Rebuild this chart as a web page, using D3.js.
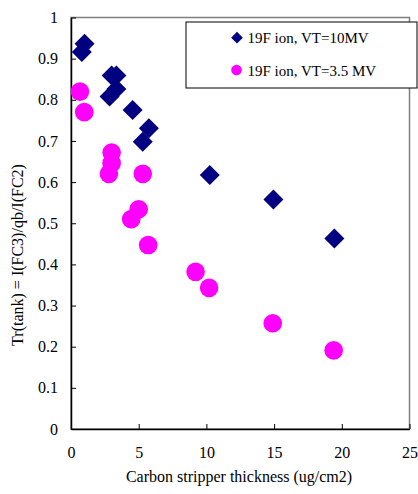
<!DOCTYPE html>
<html>
<head>
<meta charset="utf-8">
<script src="https://cdn.jsdelivr.net/npm/d3@7"></script>
<style>
  body { margin: 0; background: #fff; }
  text { font-family: "Liberation Serif", "Times New Roman", serif; }
</style>
</head>
<body>
<svg id="chart"></svg>
<script>
// 19F ion, VT=10MV
var thick10 = [0.8, 1.0, 3.0, 3.35, 3.35, 2.85, 4.55, 5.75, 5.3, 10.25, 14.95, 19.45];
var trans10 = [0.916, 0.936, 0.859, 0.859, 0.826, 0.808, 0.775, 0.731, 0.698, 0.617, 0.558, 0.463];
// 19F ion, VT=3.5 MV
var thick35 = [0.66, 0.98, 3.0, 3.0, 2.8, 5.3, 5.0, 4.45, 5.7, 9.2, 10.2, 14.9, 19.4];
var trans35 = [0.820, 0.770, 0.672, 0.646, 0.620, 0.620, 0.534, 0.510, 0.447, 0.382, 0.343, 0.257, 0.191];

var xTicks = [0, 5, 10, 15, 20, 25];
var yTicks = [0, 0.1, 0.2, 0.3, 0.4, 0.5, 0.6, 0.7, 0.8, 0.9, 1];
var seriesNames = ["19F ion, VT=10MV", "19F ion, VT=3.5 MV"];

var width = 418, height = 494;
var svg = d3.select("#chart").attr("width", width).attr("height", height);

var x = d3.scaleLinear().domain([0, 25]).range([71, 409.5]);
var y = d3.scaleLinear().domain([0, 1]).range([429, 17.5]);

// plot area border
svg.append("rect")
   .attr("x", x(0)).attr("y", y(1))
   .attr("width", x(25) - x(0)).attr("height", y(0) - y(1))
   .attr("fill", "none").attr("stroke", "#808080").attr("stroke-width", 1.5);

var xAxis = svg.append("g")
   .attr("transform", "translate(0," + y(0) + ")")
   .call(d3.axisBottom(x).tickValues(xTicks).tickSizeInner(-5).tickSizeOuter(0).tickPadding(18));
var yAxis = svg.append("g")
   .attr("transform", "translate(" + x(0) + ",0)")
   .call(d3.axisLeft(y).tickValues(yTicks).tickSizeInner(-5).tickSizeOuter(0).tickPadding(13)
         .tickFormat(function(d) { return d3.format("")(+d.toFixed(1)); }));

[xAxis, yAxis].forEach(function(g) {
  g.select(".domain").attr("stroke", "#000").attr("stroke-width", 1.5);
  g.selectAll(".tick line").attr("stroke", "#000").attr("stroke-width", 1);
  g.selectAll(".tick text").attr("font-size", 16).attr("fill", "#000")
   .attr("font-family", "Liberation Serif");
});

// markers
var diamond = d3.symbol().type(d3.symbolSquare).size(200);
var circle = d3.symbol().type(d3.symbolCircle).size(272);

svg.append("g").selectAll("path")
   .data(d3.range(thick35.length))
   .enter().append("path")
   .attr("d", circle)
   .attr("transform", function(i) { return "translate(" + x(thick35[i]) + "," + y(trans35[i]) + ")"; })
   .attr("fill", "#ff00ff");

svg.append("g").selectAll("path")
   .data(d3.range(thick10.length))
   .enter().append("path")
   .attr("d", diamond)
   .attr("transform", function(i) { return "translate(" + x(thick10[i]) + "," + y(trans10[i]) + ") rotate(45)"; })
   .attr("fill", "#000080");

// legend
var legend = svg.append("g");
legend.append("rect")
   .attr("x", 186).attr("y", 22).attr("width", 231).attr("height", 66)
   .attr("fill", "#fff").attr("stroke", "#000").attr("stroke-width", 1);
legend.append("path")
   .attr("d", d3.symbol().type(d3.symbolSquare).size(68))
   .attr("transform", "translate(237,37.7) rotate(45)")
   .attr("fill", "#000080");
legend.append("path")
   .attr("d", d3.symbol().type(d3.symbolCircle).size(89))
   .attr("transform", "translate(236.5,70)")
   .attr("fill", "#ff00ff");
legend.selectAll("text.lbl")
   .data(seriesNames)
   .enter().append("text")
   .attr("class", "lbl")
   .attr("x", 247.5)
   .attr("y", function(d, i) { return i === 0 ? 43 : 75.5; })
   .attr("font-size", 15)
   .text(function(d) { return d; });

// axis titles
svg.append("text")
   .attr("x", 239).attr("y", 482)
   .attr("text-anchor", "middle").attr("font-size", 16)
   .text("Carbon stripper thickness (ug/cm2)");
svg.append("text")
   .attr("transform", "translate(23,255) rotate(-90)")
   .attr("text-anchor", "middle").attr("font-size", 16)
   .text("Tr(tank) = I(FC3)/qb/I(FC2)");
</script>
</body>
</html>
